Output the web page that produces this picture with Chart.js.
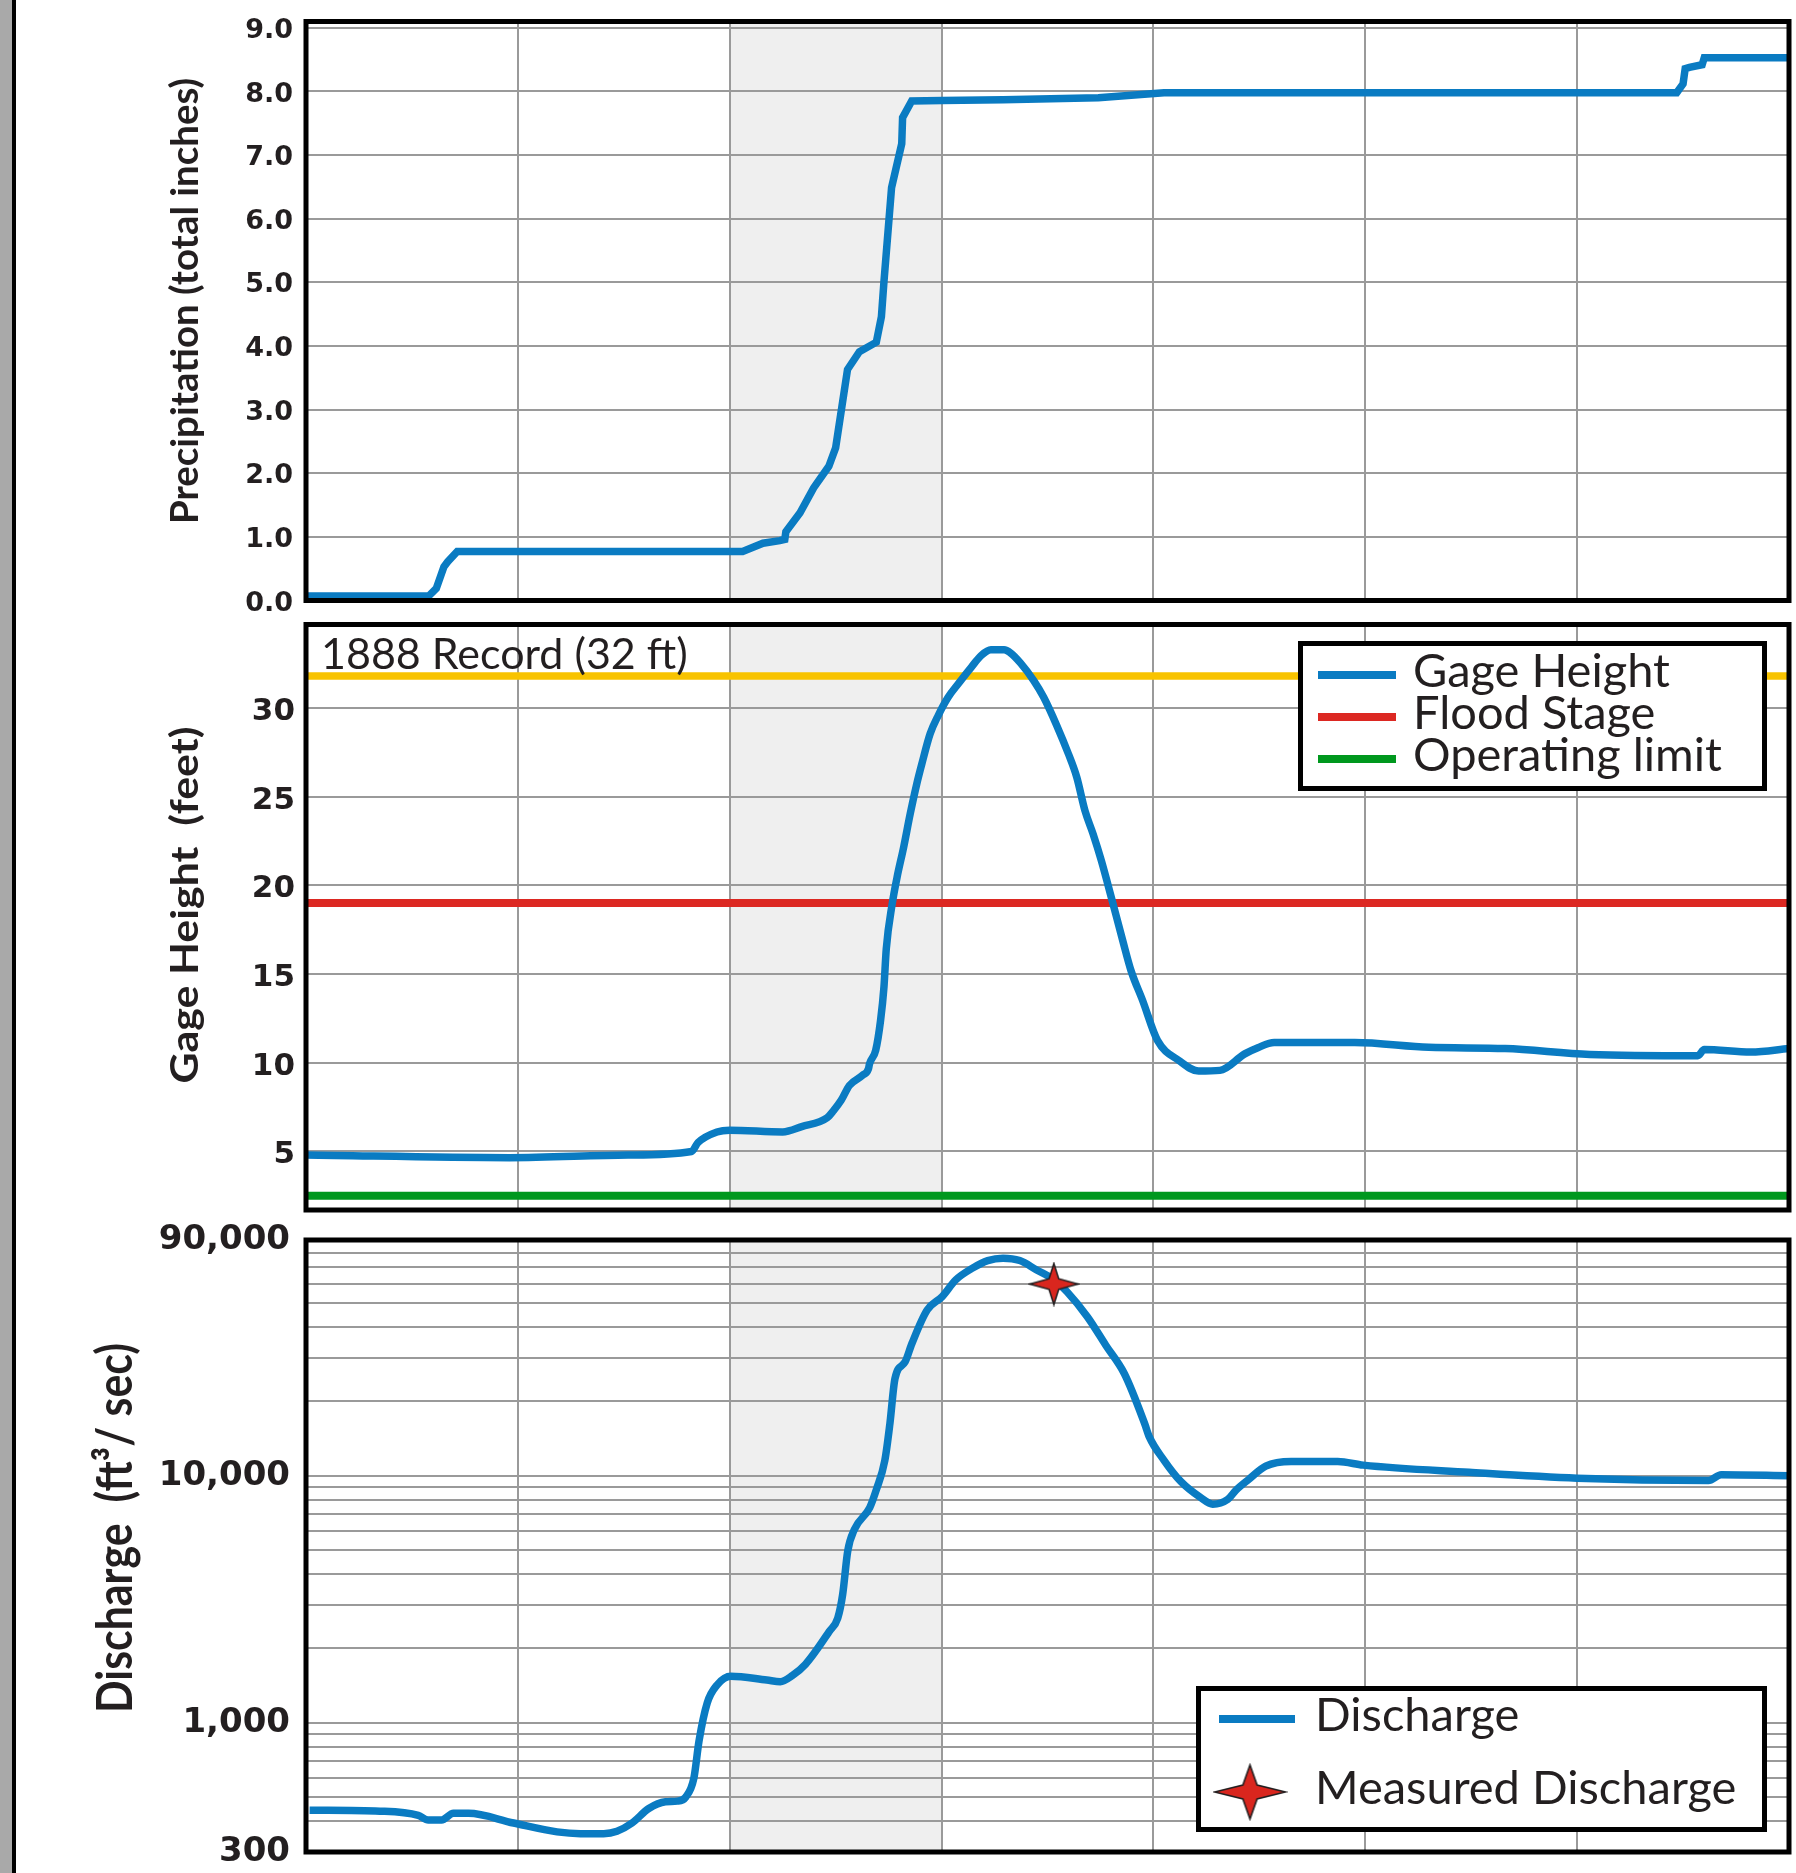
<!DOCTYPE html>
<html>
<head>
<meta charset="utf-8">
<script src="https://cdn.jsdelivr.net/npm/chart.js@4.4.1/dist/chart.umd.min.js"></script>
<style>
  html, body { margin: 0; padding: 0; background: #fff; }
  body { width: 1796px; height: 1873px; position: relative; overflow: hidden; }
  .edge { position: absolute; left: 0; top: 0; width: 12px; height: 1873px; background: #a9a9a9; border-right: 4px solid #000; }
  canvas { position: absolute; left: 0; }
</style>
</head>
<body>
<div class="edge"></div>
<canvas id="precipChart" width="1796" height="660" style="top:-20px"></canvas>
<canvas id="gageChart" width="1796" height="665" style="top:585px"></canvas>
<canvas id="dischargeChart" width="1796" height="693" style="top:1200px"></canvas>
<script>
// valeurs (x = jours depuis le debut)
const dayTicks = [0, 1, 2, 3, 4, 5, 6, 7];
const stormDays = [2, 3];

const precipX = [0, 0.579, 0.615, 0.651, 0.669, 0.714, 1.853, 2.061, 2.157, 2.236, 2.26, 2.265, 2.332, 2.396, 2.468, 2.5, 2.556, 2.612, 2.692, 2.716, 2.728, 2.764, 2.812, 2.816, 2.859, 3.003, 3.29, 3.74, 4.05, 6.47, 6.5, 6.51, 6.53, 6.59, 6.6, 7];
const precipY = [0.07, 0.07, 0.19, 0.53, 0.61, 0.77, 0.77, 0.77, 0.9, 0.94, 0.96, 1.08, 1.38, 1.77, 2.11, 2.4, 3.63, 3.91, 4.06, 4.46, 5.01, 6.49, 7.18, 7.59, 7.85, 7.86, 7.87, 7.9, 7.98, 7.98, 8.12, 8.36, 8.38, 8.42, 8.53, 8.53];
const precipTicks = [0, 1, 2, 3, 4, 5, 6, 7, 8, 9];

const gageX = [0, 0.96, 1.52, 1.82, 1.85, 1.94, 2.0, 2.25, 2.34, 2.46, 2.49, 2.526, 2.565, 2.627, 2.655, 2.66, 2.689, 2.712, 2.728, 2.739, 2.767, 2.79, 2.821, 2.852, 2.883, 2.907, 2.946, 2.984, 3.031, 3.078, 3.14, 3.187, 3.233, 3.295, 3.327, 3.373, 3.435, 3.482, 3.544, 3.599, 3.638, 3.677, 3.715, 3.754, 3.801, 3.855, 3.894, 3.949, 4.019, 4.12, 4.213, 4.314, 4.431, 4.493, 4.57, 4.95, 5.3, 5.66, 6.06, 6.57, 6.6, 6.82, 7.0];
const gageY = [4.8, 4.65, 4.8, 5.0, 5.5, 6.1, 6.2, 6.1, 6.4, 6.9, 7.3, 7.88, 8.72, 9.29, 9.66, 9.94, 10.7, 12.38, 14.26, 16.42, 18.96, 20.46, 22.15, 24.03, 25.72, 26.85, 28.54, 29.57, 30.6, 31.35, 32.29, 32.95, 33.27, 33.27, 33.08, 32.52, 31.54, 30.6, 29.0, 27.4, 26.1, 24.2, 22.9, 21.4, 19.33, 16.89, 15.2, 13.51, 11.26, 10.13, 9.53, 9.57, 10.5, 10.85, 11.14, 11.14, 10.87, 10.8, 10.47, 10.4, 10.74, 10.6, 10.8];
const gageTicks = [5, 10, 15, 20, 25, 30];
const recordStage = 31.8;
const floodStage = 19;
const operatingLimit = 2.5;

const dischargeX = [0.017, 0.349, 0.53, 0.577, 0.64, 0.696, 0.767, 0.98, 1.185, 1.295, 1.405, 1.468, 1.539, 1.618, 1.697, 1.752, 1.792, 1.831, 1.855, 1.894, 1.942, 2.005, 2.175, 2.239, 2.295, 2.358, 2.47, 2.51, 2.533, 2.557, 2.589, 2.661, 2.693, 2.732, 2.756, 2.78, 2.828, 2.86, 2.932, 3.003, 3.067, 3.146, 3.218, 3.29, 3.369, 3.449, 3.529, 3.592, 3.688, 3.775, 3.863, 3.959, 3.98, 4.05, 4.13, 4.22, 4.28, 4.35, 4.39, 4.45, 4.53, 4.65, 4.87, 4.99, 5.49, 6.0, 6.62, 6.68, 7.0];
const dischargeY = [443, 439, 422, 404, 404, 430, 430, 393, 362, 356, 356, 364, 393, 450, 479, 482, 500, 598, 843, 1205, 1429, 1545, 1490, 1468, 1553, 1727, 2344, 2656, 3303, 4955, 6071, 7437, 8827, 11510, 16220, 24720, 28910, 34290, 46870, 53110, 62080, 69250, 74300, 76000, 74300, 68070, 62360, 55590, 44020, 33760, 25880, 16220, 14400, 11550, 9460, 8190, 7670, 8010, 8750, 9670, 10930, 11420, 11420, 11040, 10330, 9780, 9570, 10100, 10000];
const measuredX = [3.53];
const measuredY = [59700];
const dischargeGrid = [300, 400, 500, 600, 700, 800, 900, 1000, 2000, 3000, 4000, 5000, 6000, 7000, 8000, 9000, 10000, 20000, 30000, 40000, 50000, 60000, 70000, 80000, 90000];
const dischargeLabels = [300, 1000, 10000, 90000];

// ---- style ----
const INK = '#231f20';
const GRID = '#9a9a9a';
const BLUE = '#0a7bc2';
const PLOT_LEFT = 306;

function points(xs, ys) {
  return xs.map((x, i) => ({ x: x, y: ys[i] }));
}
function flat(v) {
  return [{ x: dayTicks[0], y: v }, { x: dayTicks[dayTicks.length - 1], y: v }];
}

function starCanvas(w, h) {
  const c = document.createElement('canvas');
  c.width = w + 4;
  c.height = h + 4;
  const g = c.getContext('2d');
  const cx = c.width / 2, cy = c.height / 2;
  const rx = w / 2, ry = h / 2, ix = w * 0.1, iy = h * 0.13;
  g.beginPath();
  g.moveTo(cx + rx, cy);
  g.lineTo(cx + ix, cy - iy);
  g.lineTo(cx, cy - ry);
  g.lineTo(cx - ix, cy - iy);
  g.lineTo(cx - rx, cy);
  g.lineTo(cx - ix, cy + iy);
  g.lineTo(cx, cy + ry);
  g.lineTo(cx + ix, cy + iy);
  g.closePath();
  g.fillStyle = '#d9261e';
  g.fill();
  g.lineWidth = 1.6;
  g.strokeStyle = INK;
  g.stroke();
  return c;
}
const markStar = starCanvas(48, 41);
const legendStar = starCanvas(71, 54);

// zone grise (jours de pluie), sous la grille
const shade = {
  id: 'shade',
  beforeDraw(chart) {
    const a = chart.chartArea, x = chart.scales.x;
    const x0 = x.getPixelForValue(stormDays[0]), x1 = x.getPixelForValue(stormDays[1]);
    chart.ctx.save();
    chart.ctx.fillStyle = '#efefef';
    chart.ctx.fillRect(x0, a.top, x1 - x0, a.bottom - a.top);
    chart.ctx.restore();
  }
};

// cadre noir autour de la zone de trace
const frame = {
  id: 'frame',
  afterDatasetsDraw(chart) {
    const a = chart.chartArea, ctx = chart.ctx;
    ctx.save();
    ctx.lineWidth = 5;
    ctx.strokeStyle = '#000';
    ctx.strokeRect(a.left, a.top, a.right - a.left, a.bottom - a.top);
    ctx.restore();
  }
};

// titre vertical de l'axe
function sideTitle(text, size, x, y, length, top) {
  return {
    id: 'sideTitle',
    afterDraw(chart) {
      const ctx = chart.ctx;
      ctx.save();
      ctx.font = 'bold ' + size + 'px Lato';
      const w = ctx.measureText(text).width;
      ctx.translate(x, y - top);
      ctx.rotate(-Math.PI / 2);
      ctx.scale(length / w, 1);
      ctx.fillStyle = INK;
      ctx.textAlign = 'center';
      ctx.textBaseline = 'alphabetic';
      ctx.fillText(text, 0, 0);
      ctx.restore();
    }
  };
}

// legende encadree
function boxLegend(cfg) {
  return {
    id: 'boxLegend',
    afterDraw(chart) {
      const ctx = chart.ctx, t = cfg.top;
      ctx.save();
      ctx.fillStyle = '#fff';
      ctx.fillRect(cfg.box[0], cfg.box[1] - t, cfg.box[2], cfg.box[3]);
      ctx.lineWidth = 5;
      ctx.strokeStyle = '#000';
      ctx.strokeRect(cfg.box[0], cfg.box[1] - t, cfg.box[2], cfg.box[3]);
      ctx.font = cfg.size + 'px Lato';
      ctx.textBaseline = 'alphabetic';
      cfg.items.forEach(function (it) {
        const ds = chart.data.datasets[it.ds];
        const y = it.y - t;
        if (it.star) {
          ctx.drawImage(legendStar, it.star - legendStar.width / 2, y - legendStar.height / 2);
        } else {
          ctx.strokeStyle = ds.borderColor;
          ctx.lineWidth = 8;
          ctx.beginPath();
          ctx.moveTo(cfg.sample[0], y);
          ctx.lineTo(cfg.sample[1], y);
          ctx.stroke();
        }
        ctx.fillStyle = INK;
        ctx.fillText(ds.label, cfg.textX, y + cfg.dy);
      });
      ctx.restore();
    }
  };
}

// etiquette du record de 1888
function recordLabel(top) {
  return {
    id: 'recordLabel',
    afterDraw(chart) {
      const ctx = chart.ctx;
      ctx.save();
      ctx.font = '43px Lato';
      ctx.fillStyle = INK;
      ctx.fillText(chart.data.datasets[1].label, 321, 669 - top);
      ctx.restore();
    }
  };
}

function xScale() {
  return {
    type: 'linear',
    min: dayTicks[0],
    max: dayTicks[dayTicks.length - 1],
    grid: { color: GRID, lineWidth: 2, drawTicks: false },
    border: { display: false },
    ticks: { display: false },
    afterBuildTicks(s) { s.ticks = dayTicks.map(v => ({ value: v })); },
    afterFit(s) { s.height = 0; }
  };
}

function common(pad) {
  return {
    responsive: false,
    animation: false,
    layout: { autoPadding: false, padding: { left: 0, right: 7, top: pad[0], bottom: pad[1] } },
    plugins: { legend: { display: false }, tooltip: { enabled: false } },
    elements: { point: { radius: 0 } }
  };
}

// ---- Precipitation ----
const optP = common([41.5, 39.5]);
optP.scales = {
  x: xScale(),
  y: {
    min: 0, max: 9.1,
    grid: { color: GRID, lineWidth: 2, drawTicks: false },
    border: { display: false },
    ticks: {
      color: INK, autoSkip: false, padding: 13, labelOffset: 3,
      font: { family: 'DejaVu Sans', weight: 'bold', size: 27 },
      callback: v => v.toFixed(1)
    },
    afterBuildTicks(s) { s.ticks = precipTicks.map(v => ({ value: v })); },
    afterFit(s) { s.width = PLOT_LEFT; }
  }
};
new Chart(document.getElementById('precipChart'), {
  type: 'line',
  data: {
    datasets: [{
      label: 'Precipitation',
      data: points(precipX, precipY),
      borderColor: BLUE, borderWidth: 7.5, tension: 0
    }]
  },
  options: optP,
  plugins: [shade, frame, sideTitle('Precipitation (total inches)', 38, 198, 301, 446, -20)]
});

// ---- Gage height ----
const optG = common([39.5, 40]);
optG.scales = {
  x: xScale(),
  y: {
    min: 1.7, max: 34.7,
    grid: { color: GRID, lineWidth: 2, drawTicks: false },
    border: { display: false },
    ticks: {
      color: INK, autoSkip: false, padding: 11, labelOffset: 4,
      font: { family: 'DejaVu Sans', weight: 'bold', size: 31 }
    },
    afterBuildTicks(s) { s.ticks = gageTicks.map(v => ({ value: v })); },
    afterFit(s) { s.width = PLOT_LEFT; }
  }
};
new Chart(document.getElementById('gageChart'), {
  type: 'line',
  data: {
    datasets: [
      { label: 'Gage Height', data: points(gageX, gageY), borderColor: BLUE, borderWidth: 7.5, cubicInterpolationMode: 'monotone' },
      { label: '1888 Record (32 ft)', data: flat(recordStage), borderColor: '#f8c300', borderWidth: 7.5 },
      { label: 'Flood Stage', data: flat(floodStage), borderColor: '#dc2822', borderWidth: 8 },
      { label: 'Operating limit', data: flat(operatingLimit), borderColor: '#00981e', borderWidth: 8 }
    ]
  },
  options: optG,
  plugins: [shade, frame, sideTitle('Gage Height  (feet)', 38, 198, 905, 357, 585), recordLabel(585),
    boxLegend({
      top: 585, box: [1300.5, 643.5, 464, 145], sample: [1318, 1396], textX: 1413, size: 47, dy: 12,
      items: [{ ds: 0, y: 675 }, { ds: 2, y: 717 }, { ds: 3, y: 759 }]
    })]
});

// ---- Discharge ----
const optD = common([40, 41]);
optD.scales = {
  x: xScale(),
  y: {
    type: 'logarithmic',
    min: 300, max: 90000,
    grid: { color: GRID, lineWidth: 2, drawTicks: false },
    border: { display: false },
    ticks: {
      color: INK, autoSkip: false, padding: 16,
      font: { family: 'DejaVu Sans', weight: 'bold', size: 34 },
      callback: v => dischargeLabels.includes(v) ? v.toLocaleString('en-US') : ''
    },
    afterBuildTicks(s) { s.ticks = dischargeGrid.map(v => ({ value: v })); },
    afterFit(s) { s.width = PLOT_LEFT; }
  }
};
new Chart(document.getElementById('dischargeChart'), {
  type: 'line',
  data: {
    datasets: [
      { label: 'Measured Discharge', data: points(measuredX, measuredY), showLine: false, pointStyle: markStar, pointRadius: 20, borderColor: INK, backgroundColor: '#d9261e' },
      { label: 'Discharge', data: points(dischargeX, dischargeY), borderColor: BLUE, borderWidth: 7.5, cubicInterpolationMode: 'monotone' }
    ]
  },
  options: optD,
  plugins: [shade, frame, sideTitle('Discharge  (ft\u00b3/ sec)', 49, 132, 1528, 370, 1200),
    boxLegend({
      top: 1200, box: [1198.5, 1688.5, 566, 141], sample: [1219, 1295], textX: 1315, size: 47, dy: 12,
      items: [{ ds: 1, y: 1719 }, { ds: 0, y: 1792, star: 1250 }]
    })]
});
</script>
</body>
</html>
